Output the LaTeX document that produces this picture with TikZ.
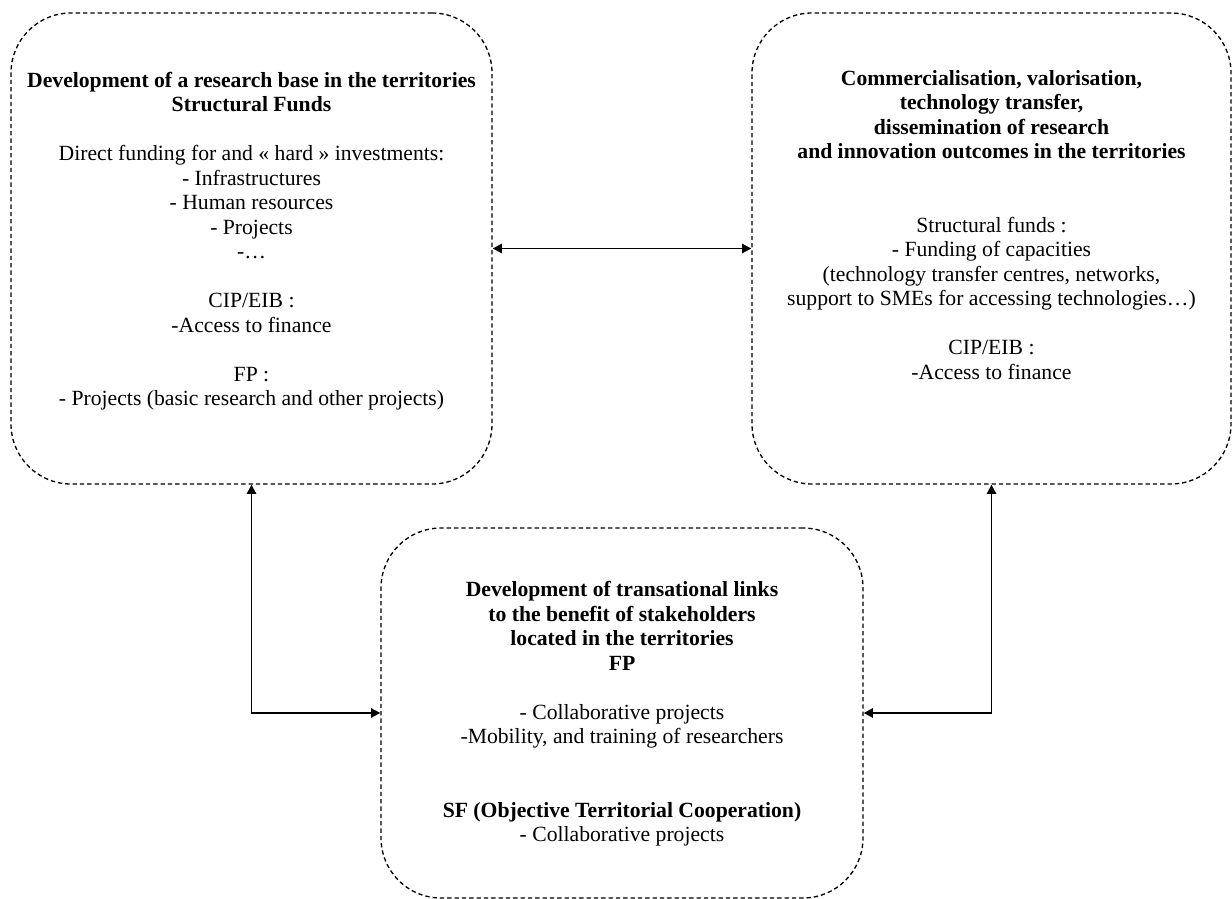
\documentclass[tikz,border=0pt]{standalone}
\usepackage{fontspec}
\setmainfont{Liberation Serif}
\usetikzlibrary{arrows.meta}
\tikzset{
  zone/.style={draw=black, line width=0.8pt, dash pattern=on 2.6pt off 1.8pt,
    rounded corners=36pt, rectangle, inner sep=0pt},
  txt/.style={align=center, inner sep=0pt, font={\fontsize{13}{14.7}\selectfont}},
  link/.style={line width=1.1pt, {Triangle[length=5.5pt,width=5.5pt]}-{Triangle[length=5.5pt,width=5.5pt]}}
}
\begin{document}
\begin{tikzpicture}[x=0.6pt,y=-0.6pt]
\useasboundingbox (0,0) rectangle (1232,899);
\node[zone, minimum width=288.6pt, minimum height=282.6pt] (L) at (251.5,248.5) {};
\node[zone, minimum width=287.4pt, minimum height=282.6pt] (R) at (991.5,248.5) {};
\node[zone, minimum width=289.2pt, minimum height=222pt] (B) at (622,713) {};

\node[txt] (Lt) at (251.5,241) {\textbf{Development of a research base in the territories}\\
\textbf{Structural Funds}\\[14.7pt]
Direct funding for and « hard » investments:\\
- Infrastructures\\
- Human resources\\
- Projects\\
-…\\[14.7pt]
CIP/EIB :\\
-Access to finance\\[14.7pt]
FP :\\
- Projects (basic research and other projects)};

\node[txt] (Rt) at (991.5,225) {\textbf{Commercialisation, valorisation,}\\
\textbf{technology transfer,}\\
\textbf{dissemination of research}\\
\textbf{and innovation outcomes in the territories}\\[29.4pt]
Structural funds :\\
- Funding of capacities\\
(technology transfer centres, networks,\\
support to SMEs for accessing technologies…)\\[14.7pt]
CIP/EIB :\\
-Access to finance};

\node[txt] (Bt) at (622,714) {\textbf{Development of transational links}\\
\textbf{to the benefit of stakeholders}\\
\textbf{located in the territories}\\
\textbf{FP}\\[14.7pt]
- Collaborative projects\\
-Mobility, and training of researchers\\[29.4pt]
\textbf{SF (Objective Territorial Cooperation)}\\
- Collaborative projects};

\draw[link] (L.east) -- (R.west);
\draw[link] (L.south) |- (B.west);
\draw[link] (R.south) |- (B.east);
\end{tikzpicture}
\end{document}
